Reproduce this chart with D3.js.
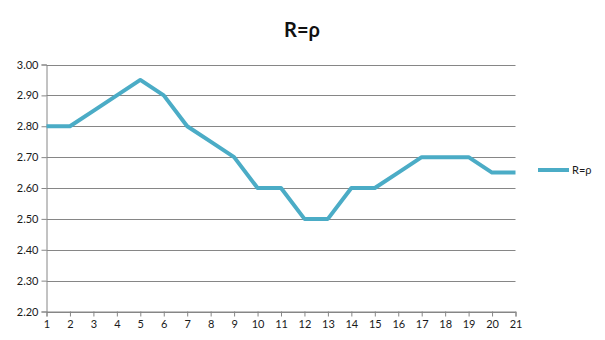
<!DOCTYPE html>
<html><head><meta charset="utf-8">
<script src="https://cdn.jsdelivr.net/npm/d3@7"></script>
<style>body{margin:0;background:#fff;} svg{display:block;font-family:Lato, "Open Sans", sans-serif;}</style>
</head><body><svg id="c" width="605" height="340"></svg>
<script>
const categories = d3.range(1, 22);
const seriesName = "R=ρ";
const values = [2.80,2.80,2.85,2.90,2.95,2.90,2.80,2.75,2.70,2.60,2.60,2.50,2.50,2.60,2.60,2.65,2.70,2.70,2.70,2.65,2.65];
const yTicks = [2.20,2.30,2.40,2.50,2.60,2.70,2.80,2.90,3.00];

const svg = d3.select("#c");
const L = 46.5, R = 515.5, T = 64.5, B = 311.5;
const x = d3.scaleLinear().domain([1, 21]).range([L, R]);
const y = d3.scaleLinear().domain([2.2, 3.0]).range([B, T]);
const grid = "#868686";

svg.append("text").attr("x", 302).attr("y", 37).attr("text-anchor", "middle")
  .attr("font-size", 20).attr("font-weight", "bold").attr("fill", "#111").text("R=ρ");

// gridlines
svg.append("g").selectAll("line").data(yTicks).join("line")
  .attr("x1", L).attr("x2", R).attr("y1", d => Math.round(y(d)) + 0.5).attr("y2", d => Math.round(y(d)) + 0.5)
  .attr("stroke", grid).attr("stroke-width", 1);

const ya = svg.append("g").attr("transform", `translate(${L},0)`)
  .call(d3.axisLeft(y).tickValues(yTicks).tickFormat(d3.format(".2f")).tickSize(5).tickPadding(3));
ya.select(".domain").attr("stroke", grid);
ya.selectAll(".tick line").attr("stroke", grid);
ya.selectAll("text").attr("font-size", 11).attr("fill", "#1a1a1a").attr("font-family", "Lato");

const xa = svg.append("g").attr("transform", `translate(0,${B})`)
  .call(d3.axisBottom(x).tickValues(categories).tickFormat(d3.format("d")).tickSize(5).tickPadding(4));
xa.select(".domain").attr("stroke", grid);
xa.selectAll(".tick line").attr("stroke", grid);
xa.selectAll("text").attr("font-size", 11).attr("fill", "#1a1a1a").attr("font-family", "Lato");

svg.append("path").datum(values)
  .attr("d", d3.line().x((d, i) => x(categories[i])).y(d => y(d)))
  .attr("fill", "none").attr("stroke", "#4bacc6").attr("stroke-width", 4).attr("stroke-linejoin", "round");

// legend
svg.append("line").attr("x1", 538).attr("x2", 569).attr("y1", 170).attr("y2", 170)
  .attr("stroke", "#4bacc6").attr("stroke-width", 4);
svg.append("text").attr("x", 572).attr("y", 174).attr("font-size", 11).attr("fill", "#1a1a1a").text(seriesName);
</script></body></html>
